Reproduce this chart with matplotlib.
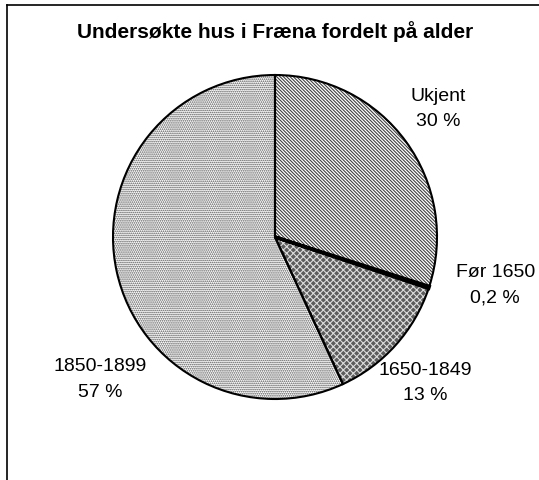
import matplotlib.pyplot as plt
from matplotlib.lines import Line2D

plt.rcParams['font.family'] = ['Liberation Sans', 'DejaVu Sans']
plt.rcParams['hatch.linewidth'] = 0.8

# data
labels = ['Ukjent', 'Før 1650', '1650-1849', '1850-1899']
shares = [30, 0.2, 13, 57]
pct_text = ['30 %', '0,2 %', '13 %', '57 %']

fills = ['white', 'black', '#5c5c5c', 'white']
hatches = ['\\' * 10, '', 'x' * 5, '.' * 8]
hatch_cols = ['#404040', 'black', '#dcdcdc', '#505050']

# label positions (in units of the pie radius)
label_pos = [(1.01, 0.79), (1.36, -0.30), (0.93, -0.90), (-1.08, -0.88)]

fig = plt.figure(figsize=(5.39, 4.80), dpi=100)
cx, cy, r = 275, 237, 162
ax = fig.add_axes([(cx - r) / 539, (480 - cy - r) / 480, 2 * r / 539, 2 * r / 480])

# hatched fill
wedges, _ = ax.pie(shares, startangle=90, counterclock=False,
                   wedgeprops=dict(linewidth=0))
for w, fc, h, hc in zip(wedges, fills, hatches, hatch_cols):
    w.set_facecolor(fc)
    w.set_hatch(h)
    w.set_edgecolor(hc)

# black outlines on top
outl, _ = ax.pie(shares, startangle=90, counterclock=False,
                 wedgeprops=dict(fill=False, edgecolor='black', linewidth=1.5))
outl[1].set_linewidth(2.5)

for lab, pct, (x, y) in zip(labels, pct_text, label_pos):
    ax.text(x, y, lab + '\n' + pct, ha='center', va='center', fontsize=14,
            linespacing=1.65, clip_on=False)

ax.set_xlim(-1, 1)
ax.set_ylim(-1, 1)
ax.set_aspect('equal')

fig.text(0.511, 1 - 32 / 480, 'Undersøkte hus i Fræna fordelt på alder',
         ha='center', va='center', fontsize=15, fontweight='bold')

# frame lines on top and left
fig.add_artist(Line2D([7 / 539, 7 / 539], [0, 1 - 5 / 480], color='black', linewidth=1.2))
fig.add_artist(Line2D([7 / 539, 1], [1 - 5 / 480, 1 - 5 / 480], color='black', linewidth=1.2))

fig.savefig('out.png', dpi=100)
